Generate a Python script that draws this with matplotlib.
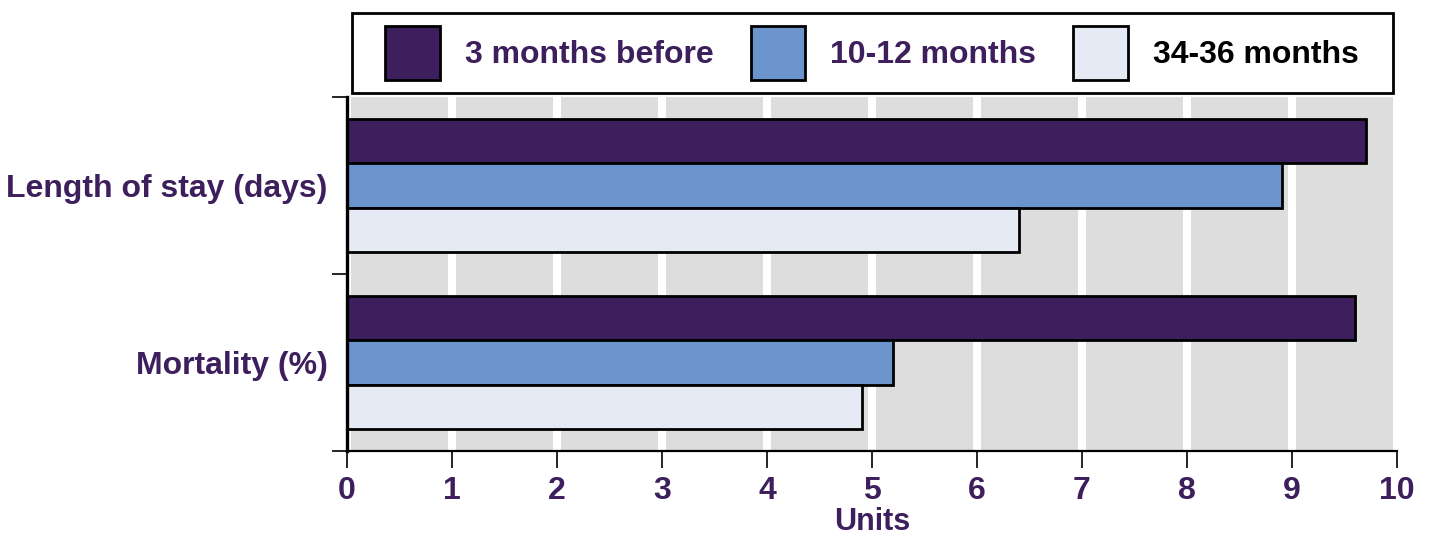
import matplotlib
matplotlib.use("Agg")
import matplotlib.pyplot as plt
from matplotlib.patches import Patch, Rectangle

plt.rcParams['font.family'] = ['Liberation Sans', 'DejaVu Sans']
plt.rcParams['font.weight'] = 'bold'

categories = ["Length of stay (days)", "Mortality (%)"]
series_labels = ["3 months before", "10-12 months", "34-36 months"]
values = {
    "3 months before": [9.7, 9.6],
    "10-12 months": [8.9, 5.2],
    "34-36 months": [6.4, 4.9],
}
colors = ["#3C1F5C", "#6A94CB", "#E6EAF5"]
legend_text_colors = ["#3C1F5C", "#3C1F5C", "#000000"]
xticks = list(range(0, 11))

purple = "#3C1F5C"
W, H = 1429, 539

fig = plt.figure(figsize=(W / 100, H / 100), dpi=100)
ax = fig.add_axes([347 / W, 1 - 451 / H, 1050 / W, 354 / H])

ax.set_xlim(0, 10)
ax.set_ylim(0, 2)

# striped background: gray bands separated by white gaps at each integer
for i in range(10):
    ax.axvspan(i + 0.04, i + 0.96, color="#DDDDDD", zorder=0, lw=0)

bar_h = 0.252
centers = [1.5, 0.5]
for k, name in enumerate(series_labels):
    ys = [c + (1 - k) * bar_h for c in centers]
    ax.barh(ys, values[name], height=bar_h, color=colors[k],
            edgecolor="black", linewidth=2, zorder=2)

ax.set_yticks(centers)
ax.set_yticklabels(categories, fontsize=23, color=purple, fontweight="bold")
ax.tick_params(axis="y", which="major", length=0, pad=14)
ax.set_yticks([0, 1, 2], minor=True)
ax.tick_params(axis="y", which="minor", length=11, width=1.2, color="black")

ax.set_xticks(xticks)
ax.set_xticklabels([str(t) for t in xticks], fontsize=23, color=purple, fontweight="bold")
ax.tick_params(axis="x", length=12, width=1.2, pad=6, color="black")
ax.set_xlabel("Units", fontsize=22, color=purple, fontweight="bold", labelpad=1)

for s in ["top", "right"]:
    ax.spines[s].set_visible(False)
ax.spines["left"].set_linewidth(2.4)
ax.spines["bottom"].set_linewidth(1.6)

# legend box above the plot area
ax.add_patch(Rectangle((352 / W, 1 - 93 / H), 1041 / W, 80 / H,
                       transform=fig.transFigure, facecolor="white",
                       edgecolor="black", linewidth=2, zorder=3, clip_on=False))

handles = [Patch(facecolor=c, edgecolor="black", linewidth=2) for c in colors]
leg = ax.legend(handles, series_labels, ncol=3, loc="center",
                bbox_to_anchor=(0.5, (451 - 53) / 354), fontsize=23, frameon=False,
                handlelength=1.72, handleheight=2.22, handletextpad=0.78,
                columnspacing=1.16, borderpad=0.0, borderaxespad=0)
leg.set_zorder(5)
for t, c in zip(leg.get_texts(), legend_text_colors):
    t.set_color(c)
    t.set_fontweight("bold")

fig.savefig("out.png", dpi=100)
